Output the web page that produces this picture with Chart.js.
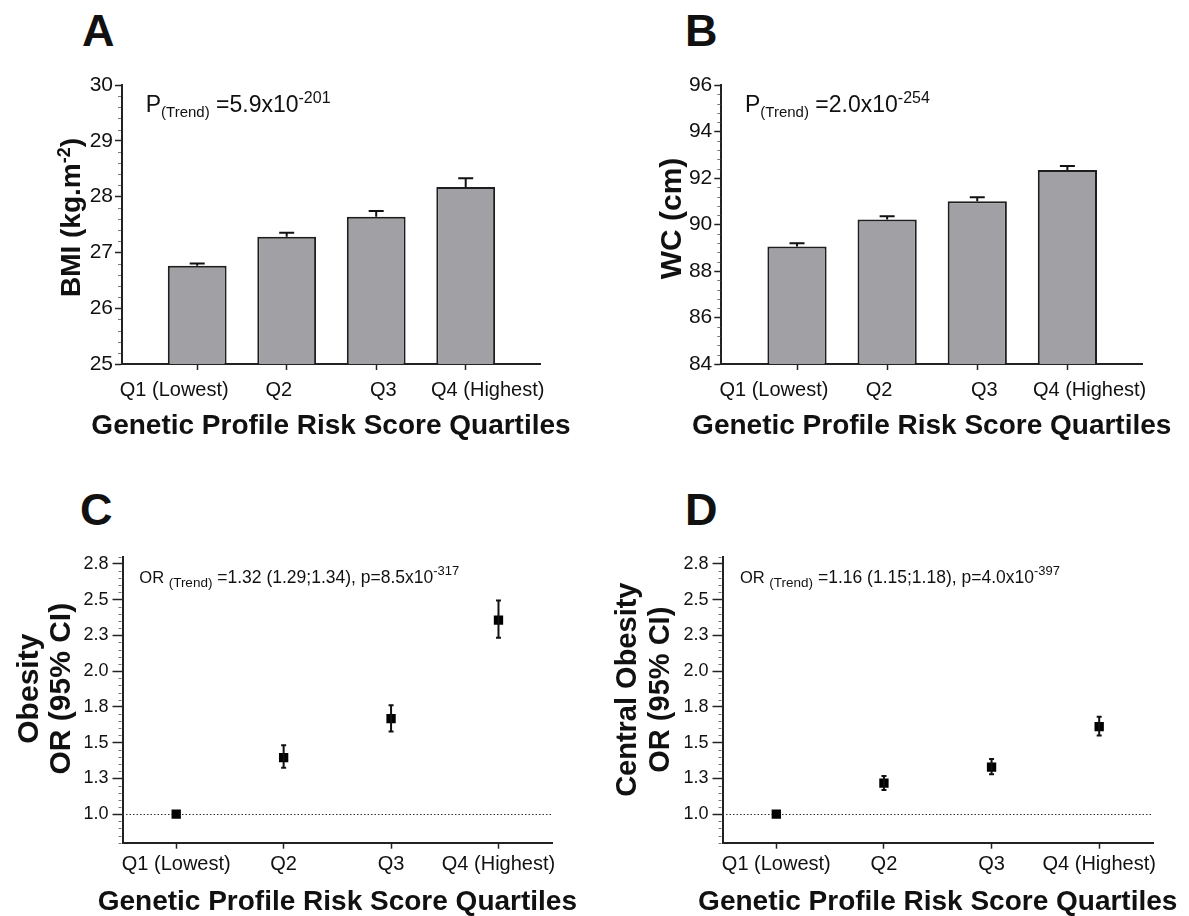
<!DOCTYPE html>
<html>
<head>
<meta charset="utf-8">
<script src="https://cdn.jsdelivr.net/npm/chart.js@4.4.0/dist/chart.umd.min.js"></script>
<style>
  body { margin: 0; background: #fff; width: 1189px; height: 916px; position: relative; overflow: hidden; }
  canvas { position: absolute; }
  .letter { position: absolute; font: bold 45px "Liberation Sans", Arial, sans-serif; line-height: 1; color: #111; }
</style>
</head>
<body>
<div class="letter" style="left:82px;top:8px">A</div>
<div class="letter" style="left:685px;top:8px">B</div>
<div class="letter" style="left:80px;top:487px">C</div>
<div class="letter" style="left:685px;top:487px">D</div>

<canvas id="chartA" width="594" height="458" style="left:0;top:0"></canvas>
<canvas id="chartB" width="595" height="458" style="left:594px;top:0"></canvas>
<canvas id="chartC" width="594" height="458" style="left:0;top:458px"></canvas>
<canvas id="chartD" width="595" height="458" style="left:594px;top:458px"></canvas>

<script>
const quartiles = ['Q1 (Lowest)', 'Q2', 'Q3', 'Q4 (Highest)'];
const xTitle = 'Genetic Profile Risk Score Quartiles';

// A: BMI means and top of the error bar
const bmiMean = [26.76, 27.28, 27.64, 28.17];
const bmiUpper = [26.80, 27.35, 27.74, 28.33];
const bmiTicks = [25, 26, 27, 28, 29, 30];

// B: waist circumference
const wcMean = [89.05, 90.21, 91.00, 92.34];
const wcUpper = [89.19, 90.35, 91.17, 92.52];
const wcTicks = [84, 86, 88, 90, 92, 94, 96];

// C: obesity OR and 95% CI
const obOR = [1.00, 1.395, 1.668, 2.357];
const obLow = [1.00, 1.325, 1.577, 2.233];
const obHigh = [1.00, 1.481, 1.762, 2.493];

// D: central obesity OR and 95% CI
const coOR = [1.00, 1.217, 1.329, 1.612];
const coLow = [1.00, 1.168, 1.278, 1.549];
const coHigh = [1.00, 1.266, 1.385, 1.680];

const orTicks = [1.0, 1.25, 1.5, 1.75, 2.0, 2.25, 2.5, 2.75];

const FONT = '"Liberation Sans", Arial, Helvetica, sans-serif';
Chart.defaults.font.family = FONT;
Chart.defaults.color = '#111';

function drawRich(ctx, parts, x, y, weight) {
  let cx = x;
  parts.forEach(p => {
    ctx.font = weight + ' ' + p.s + 'px ' + FONT;
    ctx.fillText(p.t, cx, y + (p.dy || 0));
    cx += ctx.measureText(p.t).width;
  });
}
function richWidth(ctx, parts, weight) {
  let w = 0;
  parts.forEach(p => {
    ctx.font = weight + ' ' + p.s + 'px ' + FONT;
    w += ctx.measureText(p.t).width;
  });
  return w;
}

// minor ticks, reference line, error bars and the texts with sub/superscripts
const decor = {
  id: 'decor',
  beforeDatasetsDraw(chart, args, o) {
    if (o.refLine == null) return;
    const {ctx, chartArea: a, scales: {y}} = chart;
    const py = Math.round(y.getPixelForValue(o.refLine)) + 0.5;
    ctx.save();
    ctx.setLineDash([1.5, 2]);
    ctx.lineWidth = 1.2;
    ctx.strokeStyle = '#333';
    ctx.beginPath();
    ctx.moveTo(a.left, py);
    ctx.lineTo(a.right, py);
    ctx.stroke();
    ctx.restore();
  },
  afterDatasetsDraw(chart, args, o) {
    const {ctx, chartArea: a, scales: {x, y}} = chart;
    ctx.save();

    if (o.minorStep) {
      ctx.lineWidth = 1;
      ctx.strokeStyle = '#777';
      const n = Math.round((y.max - y.min) / o.minorStep);
      for (let k = 0; k <= n; k++) {
        const v = y.min + k * o.minorStep;
        if (y.ticks.some(t => Math.abs(t.value - v) < 1e-6)) continue;
        const py = Math.round(y.getPixelForValue(v)) + 0.5;
        ctx.beginPath();
        ctx.moveTo(a.left - 4, py);
        ctx.lineTo(a.left - 1, py);
        ctx.stroke();
      }
    }

    if (o.err) {
      const e = o.err;
      ctx.lineWidth = e.width;
      ctx.strokeStyle = '#111';
      e.high.forEach((hi, i) => {
        const lo = e.low[i];
        if (hi === lo) return;
        const px = x.getPixelForValue(i);
        const yl = y.getPixelForValue(lo), yh = y.getPixelForValue(hi);
        const c = e.cap / 2;
        ctx.beginPath();
        ctx.moveTo(px, yl);
        ctx.lineTo(px, yh);
        ctx.moveTo(px - c, yh);
        ctx.lineTo(px + c, yh);
        if (e.lowCap) {
          ctx.moveTo(px - c, yl);
          ctx.lineTo(px + c, yl);
        }
        ctx.stroke();
      });
    }

    ctx.fillStyle = '#111';
    ctx.textAlign = 'left';
    ctx.textBaseline = 'alphabetic';
    if (o.note) {
      drawRich(ctx, o.note.parts, a.left + o.note.dx, a.top + o.note.dy, 'normal');
    }
    if (o.xTitle) {
      ctx.textAlign = 'center';
      ctx.font = 'bold ' + o.xTitle.size + 'px ' + FONT;
      ctx.fillText(o.xTitle.text, (a.left + a.right) / 2, a.bottom + o.xTitle.dy);
      ctx.textAlign = 'left';
    }
    if (o.yTitle) {
      const cy = (a.top + a.bottom) / 2 + o.yTitle.dy;
      o.yTitle.lines.forEach(l => {
        ctx.save();
        ctx.translate(l.x, cy);
        ctx.rotate(-Math.PI / 2);
        const w = richWidth(ctx, l.parts, 'bold');
        drawRich(ctx, l.parts, -w / 2, l.base, 'bold');
        ctx.restore();
      });
    }
    ctx.restore();
  }
};
Chart.register(decor);

const axisLine = {color: '#222', width: 2};

function barPanel(id, mean, upper, ticks, yMin, yMax, minor, pad, yWidth, yTitle, note) {
  return new Chart(document.getElementById(id), {
    type: 'bar',
    data: {
      datasets: [{
        data: mean.map((v, i) => ({x: i, y: v})),
        xAxisID: 'x',
        yAxisID: 'y',
        backgroundColor: '#a1a0a5',
        borderColor: '#1e1e1e',
        borderWidth: 2,
        borderSkipped: false,
        categoryPercentage: 1,
        barPercentage: 0.657
      }]
    },
    options: {
      responsive: false,
      animation: false,
      events: [],
      layout: {padding: pad},
      scales: {
        x: {
          type: 'linear', min: -0.84, max: 3.83, offset: false, weight: 0,
          afterBuildTicks: s => { s.ticks = quartiles.map((q, i) => ({value: i})); },
          afterFit: s => { s.height = 2; },
          border: axisLine,
          grid: {drawOnChartArea: false, offset: false, tickLength: 6, tickColor: '#222', tickWidth: 1.5},
          ticks: {display: false}
        },
        x2: {
          type: 'category', labels: quartiles, position: 'bottom', offset: true, weight: 1,
          grid: {display: false},
          border: {display: false},
          ticks: {font: {size: 20}, padding: 4, maxRotation: 0, autoSkip: false},
          afterFit: s => { s.height = 92; }
        },
        y: {
          min: yMin, max: yMax,
          afterBuildTicks: s => { s.ticks = ticks.map(v => ({value: v})); },
          afterFit: s => { s.width = yWidth; },
          border: axisLine,
          grid: {drawOnChartArea: false, tickLength: 7, tickColor: '#222', tickWidth: 1.5},
          ticks: {font: {size: 21}, padding: 2}
        }
      },
      plugins: {
        legend: {display: false},
        tooltip: {enabled: false},
        decor: {
          minorStep: minor,
          err: {low: mean, high: upper, cap: 15, width: 2, lowCap: false},
          note: note,
          xTitle: {text: xTitle, size: 28, dy: 69.5},
          yTitle: yTitle
        }
      }
    }
  });
}

function orPanel(id, or, low, high, pad, yWidth, yTitle, note) {
  return new Chart(document.getElementById(id), {
    type: 'scatter',
    data: {
      datasets: [{
        data: or.map((v, i) => ({x: i, y: v})),
        pointStyle: 'rect',
        pointRadius: 6.6,
        backgroundColor: '#000',
        borderWidth: 0
      }]
    },
    options: {
      responsive: false,
      animation: false,
      events: [],
      layout: {padding: pad},
      scales: {
        x: {
          type: 'linear', min: -0.5, max: 3.5, offset: false,
          afterBuildTicks: s => { s.ticks = quartiles.map((q, i) => ({value: i})); },
          afterFit: s => { s.height = 73.3; },
          border: axisLine,
          grid: {drawOnChartArea: false, offset: false, tickLength: 6, tickColor: '#222', tickWidth: 1.5},
          ticks: {font: {size: 20}, padding: 4, maxRotation: 0, autoSkip: false, callback: v => quartiles[v]}
        },
        y: {
          min: 0.8, max: 2.8,
          afterBuildTicks: s => { s.ticks = orTicks.map(v => ({value: v})); },
          afterFit: s => { s.width = yWidth; },
          border: axisLine,
          grid: {drawOnChartArea: false, tickLength: 10, tickColor: '#222', tickWidth: 1.5},
          ticks: {font: {size: 18}, padding: 4, callback: v => v.toFixed(1)}
        }
      },
      plugins: {
        legend: {display: false},
        tooltip: {enabled: false},
        decor: {
          minorStep: 0.05,
          refLine: 1,
          err: {low: low, high: high, cap: 5, width: 2, lowCap: true},
          note: note,
          xTitle: {text: xTitle, size: 28, dy: 67.3},
          yTitle: yTitle
        }
      }
    }
  });
}

const pNote = (val, exp) => ({
  dx: 23.7, dy: 26.7,
  parts: [
    {t: 'P', s: 23},
    {t: '(Trend)', s: 15, dy: 5},
    {t: ' =' + val, s: 23},
    {t: exp, s: 16, dy: -9}
  ]
});
const orNote = (dx, val, exp) => ({
  dx: dx, dy: 26,
  parts: [
    {t: 'OR ', s: 16.5},
    {t: '(Trend)', s: 13.5, dy: 4},
    {t: ' =' + val, s: 17.5},
    {t: exp, s: 13, dy: -7.5}
  ]
});
const boldLine = (x, text, size) => ({x: x, base: size * 0.36, parts: [{t: text, s: size}]});

barPanel('chartA', bmiMean, bmiUpper, bmiTicks, 25, 30, 0.2,
  {left: 0, top: 85, right: 54, bottom: 0}, 122,
  {dy: -7, lines: [{x: 70, base: 10, parts: [{t: 'BMI (kg.m', s: 28}, {t: '-2', s: 18, dy: -10}, {t: ')', s: 28}]}]},
  pNote('5.9x10', '-201'));

barPanel('chartB', wcMean, wcUpper, wcTicks, 84, 96, 0.4,
  {left: 0, top: 85, right: 46.8, bottom: 0}, 127.3,
  {dy: -6, lines: [boldLine(76.3, 'WC (cm)', 30)]},
  pNote('2.0x10', '-254'));

orPanel('chartC', obOR, obLow, obHigh,
  {left: 0, top: 98.7, right: 41.8, bottom: 0}, 122.5,
  {dy: -11, lines: [boldLine(27, 'Obesity', 30), boldLine(59.5, 'OR (95% CI)', 30)]},
  orNote(16.8, '1.32 (1.29;1.34), p=8.5x10', '-317'));

orPanel('chartD', coOR, coLow, coHigh,
  {left: 0, top: 98.7, right: 36, bottom: 0}, 128.5,
  {dy: -10, lines: [boldLine(32, 'Central Obesity', 29), boldLine(65, 'OR (95% CI)', 29)]},
  orNote(17.5, '1.16 (1.15;1.18), p=4.0x10', '-397'));
</script>
</body>
</html>
